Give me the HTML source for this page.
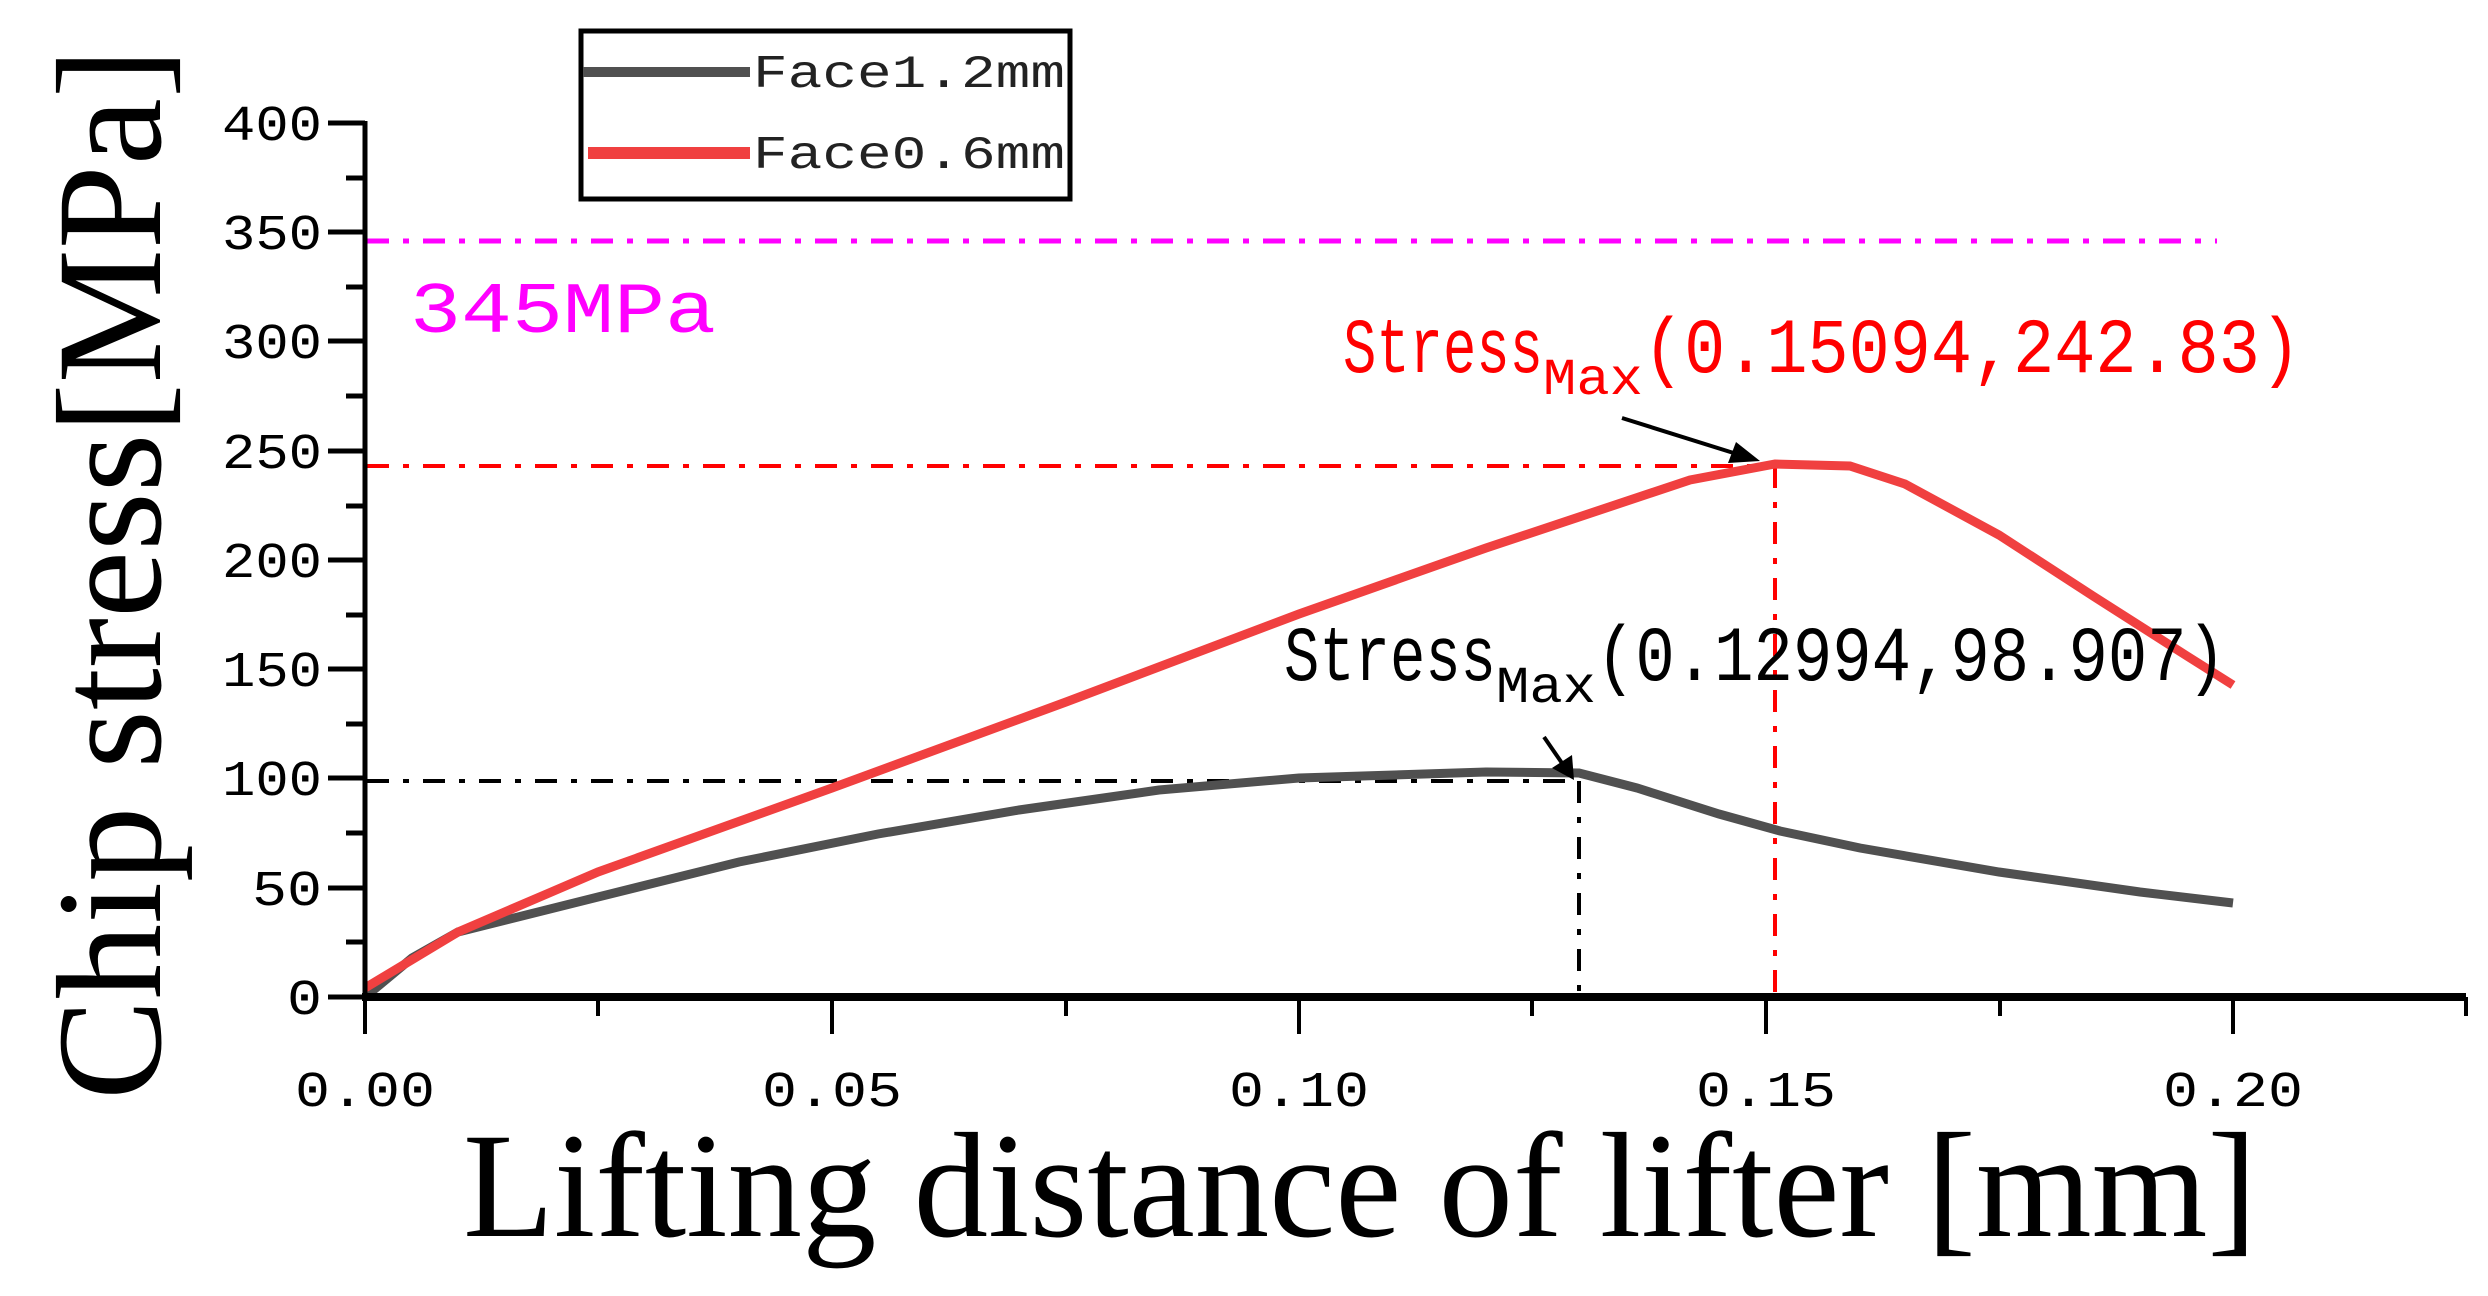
<!DOCTYPE html>
<html><head><meta charset="utf-8"><style>html,body{margin:0;padding:0;background:#fff}svg{display:block}</style></head>
<body>
<svg width="2488" height="1296" viewBox="0 0 2488 1296" xmlns="http://www.w3.org/2000/svg">
<rect width="2488" height="1296" fill="#fff"/>
<!-- reference lines -->
<line x1="367" y1="241" x2="2217" y2="241" stroke="#ff00ff" stroke-width="5" stroke-dasharray="22,14,6,14"/>
<line x1="367" y1="466" x2="1775" y2="466" stroke="#ff0000" stroke-width="4" stroke-dasharray="22,14,6,14"/>
<line x1="1775" y1="466" x2="1775" y2="995" stroke="#ff0000" stroke-width="4" stroke-dasharray="22,14,6,14"/>
<line x1="367" y1="781" x2="1579" y2="781" stroke="#000" stroke-width="4" stroke-dasharray="22,14,6,14"/>
<line x1="1579" y1="781" x2="1579" y2="995" stroke="#000" stroke-width="4" stroke-dasharray="22,14,6,14"/>
<!-- curves -->
<polyline fill="none" stroke="#505050" stroke-width="9" points="365,997 412,958 458,932 598,897 739,862 878,834 1019,810 1159,790 1299,778 1486,772 1579,773 1637,788 1719,814 1780,831 1860,848 1999,872 2140,892 2233,903"/>
<polyline fill="none" stroke="#f04040" stroke-width="9" points="365,988 458,932 598,872 832,788 1066,702 1299,614 1486,548 1690,480 1775,464 1850,466 1905,484 1999,535 2093,596 2187,656 2233,685"/>
<!-- axes -->
<line x1="365" y1="121" x2="365" y2="1000" stroke="#000" stroke-width="5"/>
<line x1="362" y1="997" x2="2466" y2="997" stroke="#000" stroke-width="8"/>
<g stroke="#000" stroke-width="5">
<line x1="328" y1="123" x2="365" y2="123"/><line x1="346" y1="178" x2="365" y2="178"/>
<line x1="328" y1="232" x2="365" y2="232"/><line x1="346" y1="287" x2="365" y2="287"/>
<line x1="328" y1="341" x2="365" y2="341"/><line x1="346" y1="396" x2="365" y2="396"/>
<line x1="328" y1="451" x2="365" y2="451"/><line x1="346" y1="506" x2="365" y2="506"/>
<line x1="328" y1="560" x2="365" y2="560"/><line x1="346" y1="615" x2="365" y2="615"/>
<line x1="328" y1="669" x2="365" y2="669"/><line x1="346" y1="724" x2="365" y2="724"/>
<line x1="328" y1="778" x2="365" y2="778"/><line x1="346" y1="833" x2="365" y2="833"/>
<line x1="328" y1="888" x2="365" y2="888"/><line x1="346" y1="942" x2="365" y2="942"/>
<line x1="328" y1="997" x2="365" y2="997"/>
</g>
<g stroke="#000" stroke-width="4">
<line x1="365" y1="997" x2="365" y2="1034"/><line x1="598" y1="997" x2="598" y2="1016"/>
<line x1="832" y1="997" x2="832" y2="1034"/><line x1="1066" y1="997" x2="1066" y2="1016"/>
<line x1="1299" y1="997" x2="1299" y2="1034"/><line x1="1532" y1="997" x2="1532" y2="1016"/>
<line x1="1766" y1="997" x2="1766" y2="1034"/><line x1="2000" y1="997" x2="2000" y2="1016"/>
<line x1="2233" y1="997" x2="2233" y2="1034"/><line x1="2466" y1="997" x2="2466" y2="1016"/>
</g>
<!-- tick labels -->
<g font-family="Liberation Mono, monospace" font-size="50" fill="#000" text-anchor="end">
<text x="322" y="140" textLength="100" lengthAdjust="spacingAndGlyphs">400</text>
<text x="322" y="249" textLength="100" lengthAdjust="spacingAndGlyphs">350</text>
<text x="322" y="358" textLength="100" lengthAdjust="spacingAndGlyphs">300</text>
<text x="322" y="468" textLength="100" lengthAdjust="spacingAndGlyphs">250</text>
<text x="322" y="577" textLength="100" lengthAdjust="spacingAndGlyphs">200</text>
<text x="322" y="686" textLength="100" lengthAdjust="spacingAndGlyphs">150</text>
<text x="322" y="795" textLength="100" lengthAdjust="spacingAndGlyphs">100</text>
<text x="322" y="905" textLength="70" lengthAdjust="spacingAndGlyphs">50</text>
<text x="322" y="1014" textLength="35" lengthAdjust="spacingAndGlyphs">0</text>
</g>
<g font-family="Liberation Mono, monospace" font-size="50" fill="#000" text-anchor="middle">
<text x="365" y="1106" textLength="140" lengthAdjust="spacingAndGlyphs">0.00</text>
<text x="832" y="1106" textLength="140" lengthAdjust="spacingAndGlyphs">0.05</text>
<text x="1299" y="1106" textLength="140" lengthAdjust="spacingAndGlyphs">0.10</text>
<text x="1766" y="1106" textLength="140" lengthAdjust="spacingAndGlyphs">0.15</text>
<text x="2233" y="1106" textLength="140" lengthAdjust="spacingAndGlyphs">0.20</text>
</g>
<!-- axis titles -->
<text x="463" y="1236" font-family="Liberation Serif, serif" font-size="150" textLength="1794" lengthAdjust="spacingAndGlyphs" fill="#000">Lifting distance of lifter [mm]</text>
<text transform="translate(160,1100) rotate(-90)" x="0" y="0" font-family="Liberation Serif, serif" font-size="150" textLength="1052" lengthAdjust="spacingAndGlyphs" fill="#000">Chip stress[MPa]</text>
<!-- legend -->
<rect x="581" y="31" width="489" height="168" fill="#fff" stroke="#000" stroke-width="5"/>
<line x1="583" y1="72" x2="750" y2="72" stroke="#505050" stroke-width="10"/>
<line x1="588" y1="153" x2="750" y2="153" stroke="#f04040" stroke-width="12"/>
<g font-family="Liberation Mono, monospace" font-size="46" fill="#222">
<text x="753" y="87" textLength="312" lengthAdjust="spacingAndGlyphs">Face1.2mm</text>
<text x="753" y="168" textLength="312" lengthAdjust="spacingAndGlyphs">Face0.6mm</text>
</g>
<!-- annotations -->
<text x="410" y="332" font-family="Liberation Mono, monospace" font-size="72" fill="#ff00ff" textLength="306" lengthAdjust="spacingAndGlyphs">345MPa</text>
<text x="1343" y="372" font-family="Liberation Mono, monospace" font-size="78" fill="#ff0000">
<tspan textLength="200" lengthAdjust="spacingAndGlyphs">Stress</tspan><tspan dy="22" font-size="52" textLength="100" lengthAdjust="spacingAndGlyphs">Max</tspan><tspan dy="-22" textLength="658" lengthAdjust="spacingAndGlyphs">(0.15094,242.83)</tspan></text>
<text x="1284" y="680" font-family="Liberation Mono, monospace" font-size="78" fill="#000">
<tspan textLength="212" lengthAdjust="spacingAndGlyphs">Stress</tspan><tspan dy="22" font-size="52" textLength="100" lengthAdjust="spacingAndGlyphs">Max</tspan><tspan dy="-22" textLength="630" lengthAdjust="spacingAndGlyphs">(0.12994,98.907)</tspan></text>
<line x1="1622" y1="418" x2="1740" y2="455" stroke="#000" stroke-width="4"/>
<polygon points="1760,461 1728,463 1736,442" fill="#000"/>
<line x1="1544" y1="737" x2="1564" y2="766" stroke="#000" stroke-width="4"/>
<polygon points="1574,780 1552,768 1572,755" fill="#000"/>
</svg>
</body></html>
